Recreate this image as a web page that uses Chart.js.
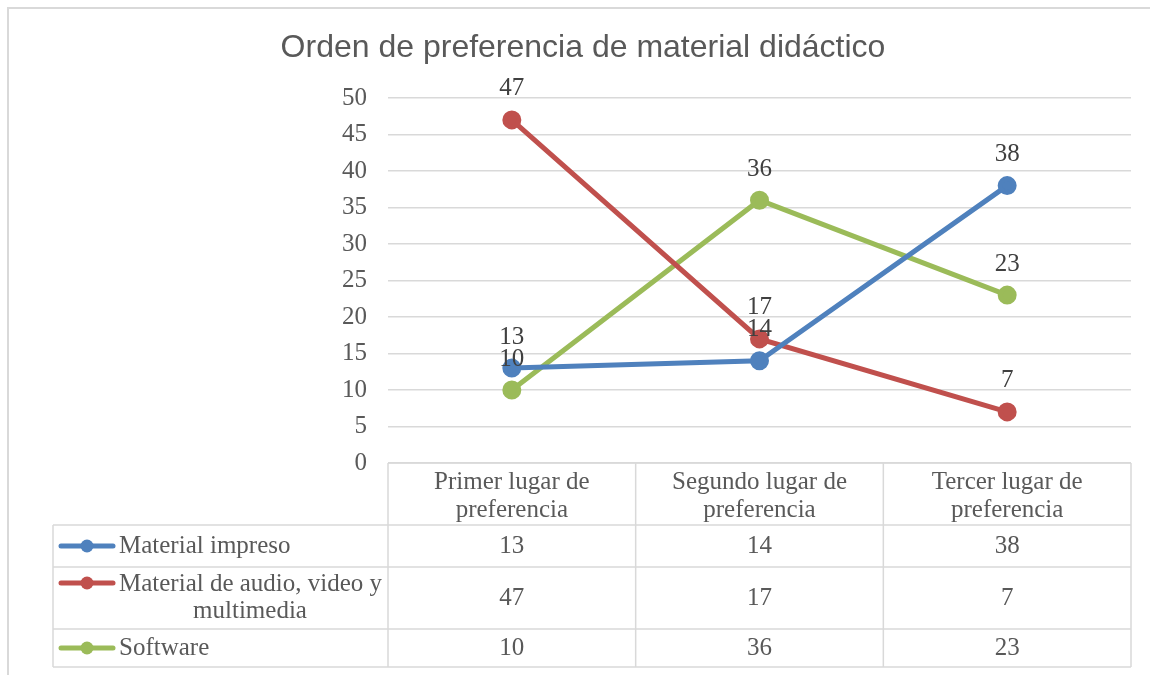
<!DOCTYPE html>
<html>
<head>
<meta charset="utf-8">
<script src="https://cdn.jsdelivr.net/npm/chart.js@4/dist/chart.umd.min.js"></script>
<style>
  body { margin: 0; background: #fff; }
  #wrap { width: 1150px; height: 675px; position: relative; }
</style>
</head>
<body>
<div id="wrap"><canvas id="grafico" width="1150" height="675"></canvas></div>
<script>
// datos del grafico
const titulo = "Orden de preferencia de material didáctico";
const categorias = [["Primer lugar de", "preferencia"], ["Segundo lugar de", "preferencia"], ["Tercer lugar de", "preferencia"]];
const series = [["Material impreso"], ["Material de audio, video y", "multimedia"], ["Software"]];
const materialImpreso = [13, 14, 38];
const materialAudio = [47, 17, 7];
const software = [10, 36, 23];
const colores = ["#4F81BD", "#C0504D", "#9BBB59"];

const fuente = "'Liberation Serif', 'Times New Roman', serif";
const gris = "#595959";
const lineaTabla = "#d9d9d9";

// filas de la tabla: [top, bottom]
const filas = [[525, 567], [567, 629], [629, 667]];
const topTabla = 463;
const izqTabla = 53;

const pluginTabla = {
    id: "tablaDatos",
    beforeDraw(chart) {
        const ctx = chart.ctx;
        ctx.save();
        ctx.strokeStyle = "#d9d9d9";
        ctx.lineWidth = 2;
        ctx.strokeRect(8, 8, 1160, 700);
        ctx.restore();
    },
    afterDraw(chart) {
        const ctx = chart.ctx;
        const x = chart.scales.x;
        const area = chart.chartArea;
        const ancho = (area.right - area.left) / categorias.length;
        ctx.save();

        // titulo
        ctx.fillStyle = gris;
        ctx.font = "32px 'Liberation Sans', Arial, sans-serif";
        ctx.textAlign = "center";
        ctx.textBaseline = "alphabetic";
        ctx.fillText(titulo, 583, 57);

        // lineas de la tabla
        ctx.strokeStyle = lineaTabla;
        ctx.lineWidth = 1.5;
        ctx.beginPath();
        ctx.moveTo(area.left, topTabla); ctx.lineTo(area.right, topTabla);
        filas.forEach(f => {
            ctx.moveTo(izqTabla, f[0]); ctx.lineTo(area.right, f[0]);
        });
        ctx.moveTo(izqTabla, filas[2][1]); ctx.lineTo(area.right, filas[2][1]);
        ctx.moveTo(izqTabla, filas[0][0]); ctx.lineTo(izqTabla, filas[2][1]);
        for (let i = 0; i <= categorias.length; i++) {
            const px = area.left + ancho * i;
            ctx.moveTo(px, topTabla); ctx.lineTo(px, filas[2][1]);
        }
        ctx.stroke();

        // encabezados
        ctx.fillStyle = gris;
        ctx.font = "25px " + fuente;
        ctx.textAlign = "center";
        ctx.textBaseline = "middle";
        categorias.forEach((c, i) => {
            const cx = x.getPixelForValue(i);
            ctx.fillText(c[0], cx, 482);
            ctx.fillText(c[1], cx, 510);
        });

        // valores y leyenda
        chart.data.datasets.forEach((ds, j) => {
            const f = filas[j];
            const cy = (f[0] + f[1]) / 2;
            ds.data.forEach((v, i) => {
                ctx.fillText(String(v), x.getPixelForValue(i), cy);
            });
            // marcador
            ctx.strokeStyle = ds.borderColor;
            ctx.lineWidth = 5;
            ctx.lineCap = "round";
            const my = series[j].length > 1 ? f[0] + 16 : cy;
            ctx.beginPath();
            ctx.moveTo(61, my); ctx.lineTo(113, my);
            ctx.stroke();
            ctx.beginPath();
            ctx.fillStyle = ds.borderColor;
            ctx.arc(87, my, 6.5, 0, Math.PI * 2);
            ctx.fill();
            ctx.fillStyle = gris;
            ctx.textAlign = "left";
            if (series[j].length > 1) {
                ctx.fillText(series[j][0], 119, f[0] + 17);
                ctx.textAlign = "center";
                ctx.fillText(series[j][1], 250, f[0] + 44);
            } else {
                ctx.fillText(series[j][0], 119, cy);
            }
            ctx.textAlign = "center";
        });

        // etiquetas de datos
        ctx.fillStyle = "#404040";
        ctx.font = "25px " + fuente;
        chart.data.datasets.forEach((ds, j) => {
            const meta = chart.getDatasetMeta(j);
            meta.data.forEach((p, i) => {
                ctx.fillText(String(ds.data[i]), p.x, p.y - 31);
            });
        });
        ctx.restore();
    }
};

const ctx = document.getElementById("grafico");
new Chart(ctx, {
    type: "line",
    data: {
        labels: categorias,
        datasets: [
            { label: series[0].join(" "), data: materialImpreso, borderColor: colores[0], backgroundColor: colores[0] },
            { label: series[1].join(" "), data: materialAudio, borderColor: colores[1], backgroundColor: colores[1] },
            { label: series[2].join(" "), data: software, borderColor: colores[2], backgroundColor: colores[2] }
        ].map(d => Object.assign(d, { borderWidth: 5, pointRadius: 7, pointHoverRadius: 7, tension: 0 }))
    },
    options: {
        responsive: false,
        animation: false,
        layout: { padding: { left: 0, right: 19, top: 98, bottom: 0 } },
        plugins: { legend: { display: false }, title: { display: false }, tooltip: { enabled: false } },
        scales: {
            x: {
                offset: true,
                grid: { display: false },
                border: { display: false },
                ticks: { display: false },
                afterFit(s) { s.height = 212; }
            },
            y: {
                min: 0,
                max: 50,
                ticks: { stepSize: 5, color: gris, font: { family: fuente, size: 25 }, padding: 21 },
                grid: { color: lineaTabla, lineWidth: 1.5, drawTicks: false },
                border: { display: false },
                afterFit(s) { s.width = 388; }
            }
        }
    },
    plugins: [pluginTabla]
});
</script>
</body>
</html>
